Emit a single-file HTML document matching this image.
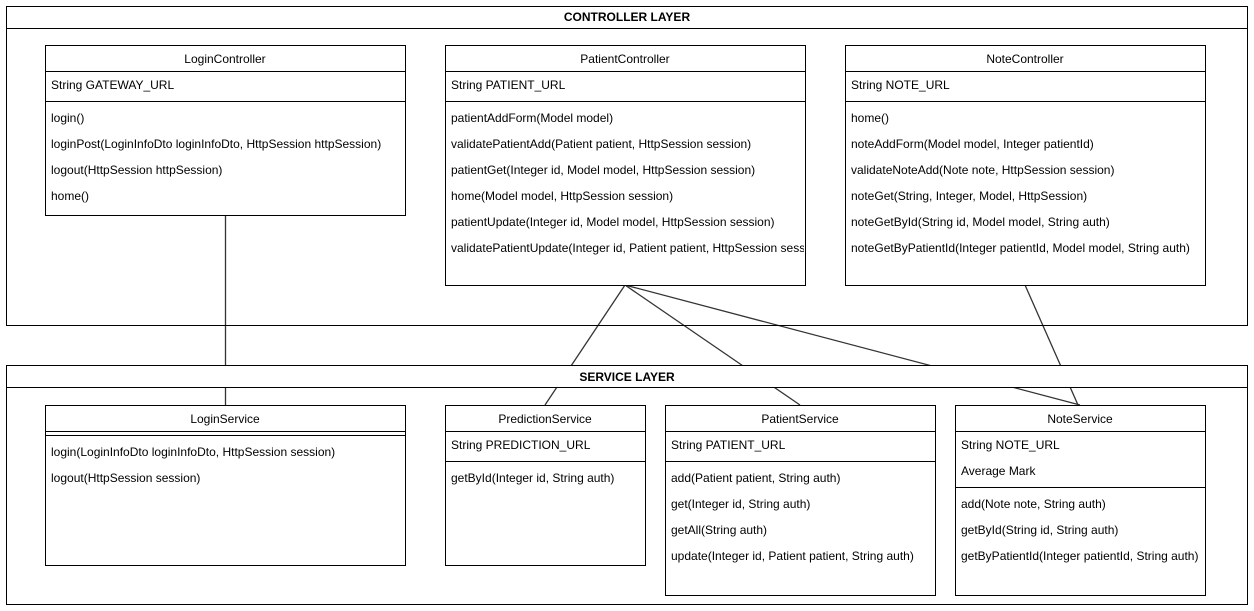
<!DOCTYPE html>
<html><head><meta charset="utf-8"><style>
html,body{margin:0;padding:0;background:#fff;}
svg{display:block;}
text{font-family:"Liberation Sans",Arial,sans-serif;font-size:12px;fill:#000;}
.t{font-weight:bold;}
</style></head><body>
<svg width="1254" height="611" viewBox="0 0 1254 611">
<g stroke="#333" stroke-width="1.3" fill="none">
<line x1="225.5" y1="215" x2="225.5" y2="405"/>
<line x1="625" y1="285" x2="545" y2="405"/>
<line x1="625" y1="285" x2="800" y2="405"/>
<line x1="625" y1="285" x2="1080" y2="405"/>
<line x1="1025" y1="285" x2="1078" y2="405"/>
</g>
<g stroke="#000" stroke-width="1" fill="none">
<rect x="6.5" y="6.5" width="1241" height="319"/>
<rect x="6.5" y="6.5" width="1241" height="22" fill="#fff"/>
<rect x="6.5" y="365.5" width="1241" height="239"/>
<rect x="6.5" y="365.5" width="1241" height="22" fill="#fff"/>
</g>
<text class="t" x="627" y="21" text-anchor="middle">CONTROLLER LAYER</text>
<text class="t" x="627" y="381" text-anchor="middle">SERVICE LAYER</text>

<g stroke="#000" stroke-width="1" fill="#fff">
<rect x="45.5" y="45.5" width="360" height="170"/>
<rect x="445.5" y="45.5" width="360" height="240"/>
<rect x="845.5" y="45.5" width="360" height="240"/>
<rect x="45.5" y="405.5" width="360" height="160"/>
<rect x="445.5" y="405.5" width="200" height="160"/>
<rect x="665.5" y="405.5" width="270" height="190"/>
<rect x="955.5" y="405.5" width="250" height="190"/>
</g>
<g stroke="#000" stroke-width="1">
<line x1="45" y1="71.5" x2="405" y2="71.5"/><line x1="45" y1="101.5" x2="405" y2="101.5"/>
<line x1="445" y1="71.5" x2="805" y2="71.5"/><line x1="445" y1="101.5" x2="805" y2="101.5"/>
<line x1="845" y1="71.5" x2="1205" y2="71.5"/><line x1="845" y1="101.5" x2="1205" y2="101.5"/>
<line x1="45" y1="431.5" x2="405" y2="431.5"/><line x1="45" y1="435.5" x2="405" y2="435.5"/>
<line x1="445" y1="431.5" x2="645" y2="431.5"/><line x1="445" y1="461.5" x2="645" y2="461.5"/>
<line x1="665" y1="431.5" x2="935" y2="431.5"/><line x1="665" y1="461.5" x2="935" y2="461.5"/>
<line x1="955" y1="431.5" x2="1205" y2="431.5"/><line x1="955" y1="487.5" x2="1205" y2="487.5"/>
</g>

<text x="225" y="63" text-anchor="middle">LoginController</text>
<text x="51" y="89">String GATEWAY_URL</text>
<text x="51" y="122">login()</text>
<text x="51" y="148">loginPost(LoginInfoDto loginInfoDto, HttpSession httpSession)</text>
<text x="51" y="174">logout(HttpSession httpSession)</text>
<text x="51" y="200">home()</text>

<text x="625" y="63" text-anchor="middle">PatientController</text>
<text x="451" y="89">String PATIENT_URL</text>
<svg x="445" y="100" width="359" height="180" overflow="hidden">
<text x="6" y="22">patientAddForm(Model model)</text>
<text x="6" y="48">validatePatientAdd(Patient patient, HttpSession session)</text>
<text x="6" y="74">patientGet(Integer id, Model model, HttpSession session)</text>
<text x="6" y="100">home(Model model, HttpSession session)</text>
<text x="6" y="126">patientUpdate(Integer id, Model model, HttpSession session)</text>
<text x="6" y="152">validatePatientUpdate(Integer id, Patient patient, HttpSession session)</text>
</svg>

<text x="1025" y="63" text-anchor="middle">NoteController</text>
<text x="851" y="89">String NOTE_URL</text>
<text x="851" y="122">home()</text>
<text x="851" y="148">noteAddForm(Model model, Integer patientId)</text>
<text x="851" y="174">validateNoteAdd(Note note, HttpSession session)</text>
<text x="851" y="200">noteGet(String, Integer, Model, HttpSession)</text>
<text x="851" y="226">noteGetById(String id, Model model, String auth)</text>
<text x="851" y="252">noteGetByPatientId(Integer patientId, Model model, String auth)</text>

<text x="225" y="423" text-anchor="middle">LoginService</text>
<text x="51" y="456">login(LoginInfoDto loginInfoDto, HttpSession session)</text>
<text x="51" y="482">logout(HttpSession session)</text>

<text x="545" y="423" text-anchor="middle">PredictionService</text>
<text x="451" y="449">String PREDICTION_URL</text>
<text x="451" y="482">getById(Integer id, String auth)</text>

<text x="800" y="423" text-anchor="middle">PatientService</text>
<text x="671" y="449">String PATIENT_URL</text>
<text x="671" y="482">add(Patient patient, String auth)</text>
<text x="671" y="508">get(Integer id, String auth)</text>
<text x="671" y="534">getAll(String auth)</text>
<text x="671" y="560">update(Integer id, Patient patient, String auth)</text>

<text x="1080" y="423" text-anchor="middle">NoteService</text>
<text x="961" y="449">String NOTE_URL</text>
<text x="961" y="475">Average Mark</text>
<text x="961" y="508">add(Note note, String auth)</text>
<text x="961" y="534">getById(String id, String auth)</text>
<text x="961" y="560">getByPatientId(Integer patientId, String auth)</text>
</svg>
</body></html>
